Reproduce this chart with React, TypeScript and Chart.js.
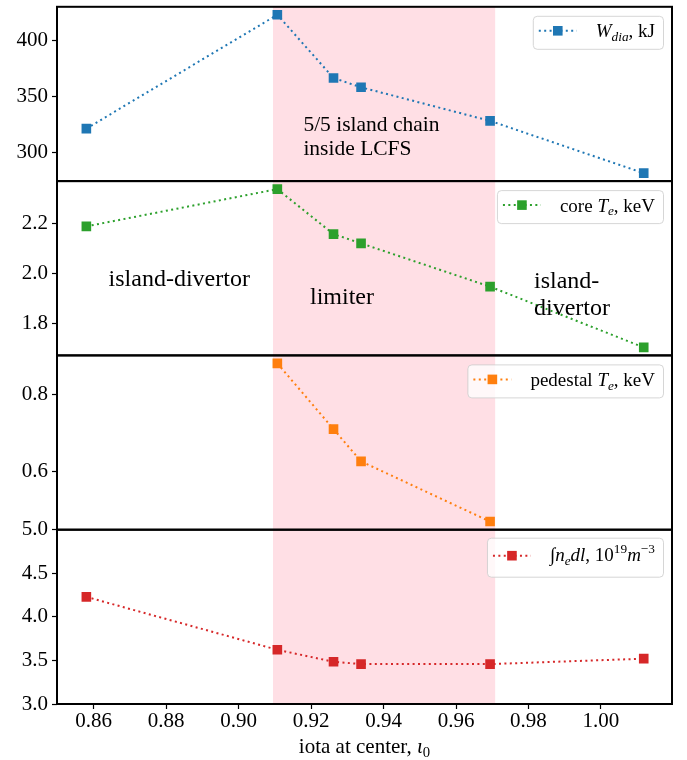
import React, { useEffect, useRef } from 'react';
import { Chart, registerables } from 'chart.js';

Chart.register(...registerables);

// ---------- data ----------
const iota = [0.858, 0.9107, 0.9262, 0.9338, 0.9694, 1.0118];
const wdia = [321.4, 423.1, 366.6, 358.3, 328.3, 281.6];
const coreTe = [2.189, 2.338, 2.158, 2.121, 1.948, 1.705];
const pedTe: (number | null)[] = [null, 0.8795, 0.71, 0.627, 0.472, null];
const neDl = [4.229, 3.622, 3.485, 3.458, 3.458, 3.52];

const xTicks = [0.86, 0.88, 0.9, 0.92, 0.94, 0.96, 0.98, 1.0];
const xRange = [0.8499, 1.0196];
const limiterSpan = [0.9095, 0.9708];

const wdiaTicks = [300, 350, 400];
const wdiaRange = [274.5, 430.2];
const coreTicks = [1.8, 2.0, 2.2];
const coreRange = [1.673, 2.37];
const pedTicks = [0.6, 0.8];
const pedRange = [0.451, 0.9];
const neTicks = [3.0, 3.5, 4.0, 4.5, 5.0];
const neRange = [3.0, 5.0];

const COLORS = ['#1f77b4', '#2ca02c', '#ff7f0e', '#d62728'];

// ---------- text helpers ----------
const FAM = '"Liberation Serif", "DejaVu Serif", serif';
const fnt = (size: number, italic?: boolean) => `${italic ? 'italic ' : ''}${size}px ${FAM}`;

type Seg = { t: string; i?: boolean; sub?: boolean; sup?: boolean };

function richWidth(ctx: CanvasRenderingContext2D, segs: Seg[], size: number) {
  let w = 0;
  for (const s of segs) {
    ctx.font = fnt(s.sub || s.sup ? size * 0.7 : size, s.i);
    w += ctx.measureText(s.t).width;
  }
  return w;
}

function drawRich(ctx: CanvasRenderingContext2D, segs: Seg[], x: number, y: number, size: number) {
  let cx = x;
  ctx.textAlign = 'left';
  ctx.textBaseline = 'alphabetic';
  for (const s of segs) {
    const sz = s.sub || s.sup ? size * 0.7 : size;
    ctx.font = fnt(sz, s.i);
    const dy = s.sub ? size * 0.2 : s.sup ? -size * 0.38 : 0;
    ctx.fillText(s.t, cx, y + dy);
    cx += ctx.measureText(s.t).width;
  }
}

const legendItems: { axis: string; segs: Seg[]; color: string; tall?: boolean }[] = [
  { axis: 'y1', color: COLORS[0], segs: [{ t: 'W', i: true }, { t: 'dia', i: true, sub: true }, { t: ', kJ' }] },
  { axis: 'y2', color: COLORS[1], segs: [{ t: 'core ' }, { t: 'T', i: true }, { t: 'e', i: true, sub: true }, { t: ', keV' }] },
  { axis: 'y3', color: COLORS[2], segs: [{ t: 'pedestal ' }, { t: 'T', i: true }, { t: 'e', i: true, sub: true }, { t: ', keV' }] },
  {
    axis: 'y4', color: COLORS[3], tall: true,
    segs: [
      { t: '\u222B', i: true }, { t: 'n', i: true }, { t: 'e', i: true, sub: true }, { t: 'dl', i: true },
      { t: ', 10' }, { t: '19', sup: true }, { t: 'm', i: true }, { t: '\u22123', sup: true },
    ],
  },
];

const panelPlugin = {
  id: 'panels',
  beforeDatasetsDraw(chart: any) {
    const ctx = chart.ctx as CanvasRenderingContext2D;
    const xs = chart.scales.x;
    const a = chart.chartArea;
    ctx.save();
    ctx.fillStyle = 'rgba(255,192,203,0.5)';
    const x0 = xs.getPixelForValue(limiterSpan[0]);
    const x1 = xs.getPixelForValue(limiterSpan[1]);
    ctx.fillRect(x0, a.top, x1 - x0, a.bottom - a.top);
    ctx.restore();
  },
  afterDatasetsDraw(chart: any) {
    const ctx = chart.ctx as CanvasRenderingContext2D;
    const a = chart.chartArea;
    ctx.save();
    // frames
    ctx.strokeStyle = '#000';
    ctx.lineWidth = 2;
    for (const id of ['y1', 'y2', 'y3', 'y4']) {
      const s = chart.scales[id];
      ctx.strokeRect(a.left, s.top, a.right - a.left, s.bottom - s.top);
    }
    // annotations
    ctx.fillStyle = '#000';
    const y1 = chart.scales.y1;
    const y2 = chart.scales.y2;
    const ann = (txt: string, x: number, yc: number, size: number) => {
      ctx.font = fnt(size);
      ctx.textAlign = 'left';
      ctx.textBaseline = 'alphabetic';
      ctx.fillText(txt, x, yc + size * 0.33);
    };
    ann('5/5 island chain', 303.4, y1.top + 116.7, 21.5);
    ann('inside LCFS', 303.4, y1.top + 141, 21.5);
    ann('island-divertor', 108.6, y2.top + 97, 24);
    ann('limiter', 310, y2.top + 115, 24);
    ann('island-', 534, y2.top + 99, 24);
    ann('divertor', 534, y2.top + 126, 24);

    // legends
    const lsize = 19;
    for (const it of legendItems) {
      const s = chart.scales[it.axis];
      const w = richWidth(ctx, it.segs, lsize);
      const right = a.right - 9;
      const left = right - (w + 71);
      const top = s.top + (it.tall ? 8 : 9);
      const h = it.tall ? 39 : 33;
      const cy = top + h / 2;
      ctx.beginPath();
      (ctx as any).roundRect(left + 0.5, top + 0.5, right - left, h, 4);
      ctx.fillStyle = 'rgba(255,255,255,0.8)';
      ctx.fill();
      ctx.strokeStyle = 'rgba(204,204,204,0.8)';
      ctx.lineWidth = 1;
      ctx.stroke();
      const hy = cy - 1.5;
      ctx.strokeStyle = it.color;
      ctx.lineWidth = 2;
      ctx.setLineDash([2, 3.4]);
      ctx.beginPath();
      ctx.moveTo(left + 6, hy);
      ctx.lineTo(left + 44, hy);
      ctx.stroke();
      ctx.setLineDash([]);
      ctx.fillStyle = it.color;
      ctx.fillRect(left + 25 - 4.8, hy - 4.8, 9.6, 9.6);
      ctx.fillStyle = '#000';
      drawRich(ctx, it.segs, left + 63, cy + (it.tall ? 3.5 : 5), lsize);
    }

    // x title
    const tsize = 21;
    const tsegs: Seg[] = [{ t: 'iota at center, ' }, { t: '\u03B9', i: true }, { t: '0', sub: true }];
    const tw = richWidth(ctx, tsegs, tsize);
    const cx = (a.left + a.right) / 2;
    drawRich(ctx, tsegs, cx - tw / 2, 753, tsize);
    ctx.restore();
  },
};

const tickFont = { family: FAM, size: 21, lineHeight: 1 };

function yAxis(range: number[], ticks: number[], digits: number) {
  return {
    type: 'linear' as const,
    position: 'left' as const,
    stack: 'panels',
    stackWeight: 1,
    min: range[0],
    max: range[1],
    afterBuildTicks: (s: any) => {
      s.ticks = ticks.map((v) => ({ value: v }));
    },
    afterFit: (s: any) => {
      s.width = 57;
      s.paddingTop = 0;
      s.paddingBottom = 0;
    },
    ticks: {
      font: tickFont,
      color: '#000',
      padding: 4,
      autoSkip: false,
      callback: (v: any) => Number(v).toFixed(digits),
    },
    grid: {
      display: true,
      drawOnChartArea: false,
      drawTicks: true,
      tickLength: 5,
      tickColor: '#000',
      tickWidth: 1.2,
    },
    border: { display: false },
  };
}

function series(vals: (number | null)[]) {
  const out: { x: number; y: number }[] = [];
  vals.forEach((v, i) => {
    if (v !== null) out.push({ x: iota[i], y: v });
  });
  return out;
}

export default function App() {
  const ref = useRef<HTMLCanvasElement | null>(null);
  useEffect(() => {
    if (!ref.current) return;
    const mk = (label: string, vals: (number | null)[], axis: string, color: string) => ({
      label,
      data: series(vals),
      yAxisID: axis,
      borderColor: color,
      backgroundColor: color,
      borderWidth: 2,
      borderDash: [2, 3.4],
      pointStyle: 'rect',
      pointRadius: 6.8,
      pointBorderWidth: 0,
      pointBackgroundColor: color,
      tension: 0,
    });
    const chart = new Chart(ref.current, {
      type: 'line',
      data: {
        datasets: [
          mk('W_dia, kJ', wdia, 'y1', COLORS[0]),
          mk('core T_e, keV', coreTe, 'y2', COLORS[1]),
          mk('pedestal T_e, keV', pedTe, 'y3', COLORS[2]),
          mk('∫n_e dl, 10^19 m^-3', neDl, 'y4', COLORS[3]),
        ] as any,
      },
      options: {
        responsive: false,
        animation: false,
        devicePixelRatio: 1,
        layout: { padding: { top: 4, right: 15, left: 0, bottom: 0 } },
        plugins: { legend: { display: false }, tooltip: { enabled: false } },
        scales: {
          x: {
            type: 'linear',
            min: xRange[0],
            max: xRange[1],
            afterBuildTicks: (s: any) => {
              s.ticks = xTicks.map((v) => ({ value: v }));
            },
            afterFit: (s: any) => {
              s.height = 56;
              s.paddingLeft = 0;
              s.paddingRight = 0;
            },
            ticks: {
              font: tickFont,
              color: '#000',
              padding: 1.5,
              maxRotation: 0,
              autoSkip: false,
              callback: (v: any) => Number(v).toFixed(2),
            },
            grid: {
              display: true,
              drawOnChartArea: false,
              drawTicks: true,
              tickLength: 5,
              tickColor: '#000',
              tickWidth: 1.2,
            },
            border: { display: false },
          },
          y4: yAxis(neRange, neTicks, 1),
          y3: yAxis(pedRange, pedTicks, 1),
          y2: yAxis(coreRange, coreTicks, 1),
          y1: yAxis(wdiaRange, wdiaTicks, 0),
        } as any,
      },
      plugins: [panelPlugin],
    });
    return () => chart.destroy();
  }, []);
  return (
    <div style={{ position: 'absolute', left: 0, top: 0, width: 687, height: 760, background: '#fff' }}>
      <canvas ref={ref} width={687} height={760} style={{ display: 'block' }} />
    </div>
  );
}
